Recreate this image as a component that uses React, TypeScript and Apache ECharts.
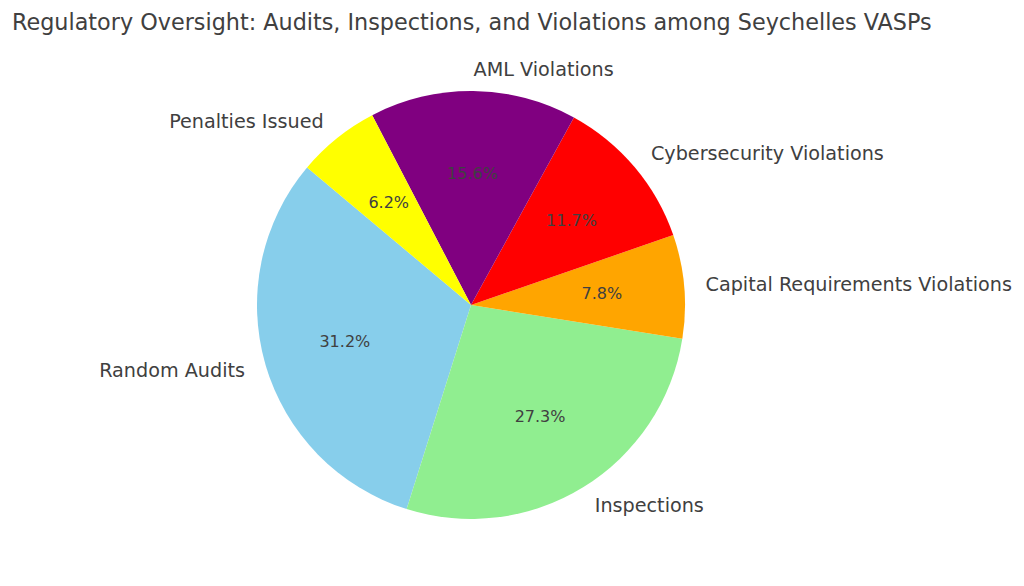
import React, { useEffect, useRef } from "react";
import * as echarts from "echarts";

const categories = [
  "Random Audits",
  "Inspections",
  "Capital Requirements Violations",
  "Cybersecurity Violations",
  "AML Violations",
  "Penalties Issued",
];
const values = [40, 35, 10, 15, 20, 8];
const colors = ["#87CEEB", "#90EE90", "#FFA500", "#FF0000", "#800080", "#FFFF00"];
const titleText = "Regulatory Oversight: Audits, Inspections, and Violations among Seychelles VASPs";

const R = 214;
const CENTER = [471, 305];
const FONT = "DejaVu Sans";
const TEXT_COLOR = "#404040";

// Python-style "%1.1f" (round half to even)
function fmt1(x: number): string {
  const s = x * 10;
  const f = Math.floor(s);
  const diff = s - f;
  let r: number;
  if (Math.abs(diff - 0.5) < 1e-9) r = f % 2 === 0 ? f : f + 1;
  else r = Math.round(s);
  return (r / 10).toFixed(1);
}

export default function App() {
  const ref = useRef<HTMLDivElement>(null);
  useEffect(() => {
    if (!ref.current) return;
    const chart = echarts.init(ref.current, null, { renderer: "svg" });
    const total = values.reduce((a, b) => a + b, 0);
    const data = categories.map((name, i) => ({
      name,
      value: values[i],
      itemStyle: { color: colors[i] },
    }));
    chart.setOption({
      animation: false,
      backgroundColor: "#ffffff",
      title: {
        text: titleText,
        left: 7,
        top: 6,
        textStyle: { fontFamily: FONT, fontSize: 22.3, fontWeight: "normal", color: TEXT_COLOR },
      },
      series: [
        {
          type: "pie",
          center: CENTER,
          radius: [0, R],
          startAngle: 140,
          clockwise: false,
          avoidLabelOverlap: false,
          silent: true,
          data,
          label: {
            show: true,
            position: "outside",
            fontFamily: FONT,
            fontSize: 19.2,
            color: TEXT_COLOR,
            distanceToLabelLine: 0,
            formatter: "{b}",
          },
          labelLine: { show: false, length: R * 0.1, length2: 0 },
        },
        {
          type: "pie",
          center: CENTER,
          radius: [0, R * 1.2],
          startAngle: 140,
          clockwise: false,
          silent: true,
          z: 5,
          data: categories.map((name, i) => ({
            name,
            value: values[i],
            itemStyle: { color: "rgba(0,0,0,0)" },
          })),
          label: {
            show: true,
            position: "inside",
            fontFamily: FONT,
            fontSize: 16,
            color: TEXT_COLOR,
            formatter: (p: any) => fmt1((p.value / total) * 100) + "%",
          },
          labelLine: { show: false },
        },
      ],
    });
    return () => chart.dispose();
  }, []);
  return (
    <div
      ref={ref}
      style={{ position: "fixed", left: 0, top: 0, width: 1024, height: 586 }}
    />
  );
}
